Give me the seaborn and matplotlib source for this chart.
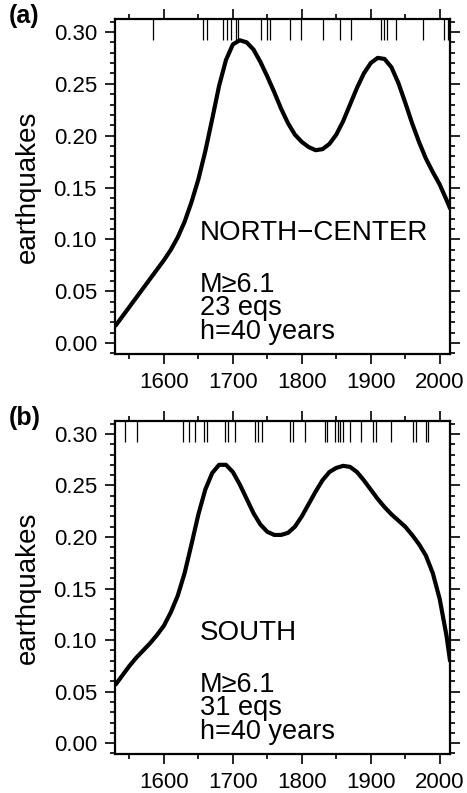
import numpy as np
import pandas as pd
import matplotlib
matplotlib.use("Agg")
import matplotlib.pyplot as plt
import seaborn as sns
from matplotlib.ticker import MultipleLocator, FormatStrFormatter

sns.set_theme(style="white")
plt.rcParams['font.family'] = ['Liberation Sans', 'DejaVu Sans']
plt.rcParams['text.color'] = 'black'

# ---------------- data ----------------
years_a = [1530, 1540, 1550, 1560, 1570, 1580, 1590, 1600, 1610, 1620, 1630, 1640, 1650,
           1660, 1670, 1680, 1690, 1700, 1710, 1720, 1730, 1740, 1750, 1760, 1770, 1780,
           1790, 1800, 1810, 1820, 1830, 1840, 1850, 1860, 1870, 1880, 1890, 1900, 1910,
           1920, 1930, 1940, 1950, 1960, 1970, 1980, 1990, 2000, 2010, 2015]
rate_a = [0.017, 0.026, 0.035, 0.044, 0.053, 0.062, 0.071, 0.080, 0.090, 0.102, 0.117,
          0.136, 0.158, 0.185, 0.216, 0.248, 0.273, 0.288, 0.292, 0.290, 0.283, 0.271,
          0.257, 0.242, 0.226, 0.212, 0.201, 0.194, 0.189, 0.186, 0.187, 0.192, 0.201,
          0.214, 0.230, 0.246, 0.260, 0.270, 0.275, 0.274, 0.266, 0.251, 0.232, 0.212,
          0.194, 0.178, 0.165, 0.153, 0.138, 0.130]
events_a = [1584, 1656, 1662, 1685, 1691, 1697, 1704, 1707, 1741, 1749, 1754, 1783,
            1799, 1831, 1855, 1872, 1915, 1919, 1923, 1937, 1976, 2007, 2012]

years_b = [1530, 1540, 1550, 1560, 1570, 1580, 1590, 1600, 1610, 1620, 1630, 1640, 1650,
           1660, 1670, 1680, 1690, 1700, 1710, 1720, 1730, 1740, 1750, 1760, 1770, 1780,
           1790, 1800, 1810, 1820, 1830, 1840, 1850, 1860, 1870, 1880, 1890, 1900, 1910,
           1920, 1930, 1940, 1950, 1960, 1970, 1980, 1990, 2000, 2010, 2015]
rate_b = [0.057, 0.066, 0.075, 0.083, 0.090, 0.097, 0.105, 0.114, 0.127, 0.143, 0.165,
          0.193, 0.222, 0.246, 0.262, 0.270, 0.270, 0.263, 0.251, 0.237, 0.223, 0.212,
          0.205, 0.202, 0.202, 0.204, 0.210, 0.220, 0.232, 0.244, 0.255, 0.263, 0.267,
          0.269, 0.268, 0.263, 0.255, 0.246, 0.237, 0.229, 0.222, 0.216, 0.210, 0.202,
          0.193, 0.182, 0.165, 0.140, 0.104, 0.080]
events_b = [1543, 1561, 1628, 1637, 1645, 1658, 1662, 1688, 1693, 1703, 1732, 1736,
            1742, 1783, 1787, 1804, 1833, 1837, 1848, 1853, 1855, 1860, 1870, 1886,
            1903, 1907, 1930, 1961, 1966, 1980, 1983]

panels = [
    dict(tag="(a)", years=years_a, rate=rate_a, events=events_a,
         region="NORTH\u2212CENTER", mag="M\u22656.1", neq="23 eqs", bw="h=40 years"),
    dict(tag="(b)", years=years_b, rate=rate_b, events=events_b,
         region="SOUTH", mag="M\u22656.1", neq="31 eqs", bw="h=40 years"),
]

W, H = 467, 793
fig = plt.figure(figsize=(W / 100, H / 100), dpi=100)
fig.patch.set_facecolor("white")

axes_px = [(115, 19, 450, 354), (115, 421, 450, 754)]

for p, (l, t, r, b) in zip(panels, axes_px):
    ax = fig.add_axes([l / W, 1 - b / H, (r - l) / W, (b - t) / H])
    df = pd.DataFrame({"year": p["years"], "rate": p["rate"]})
    sns.lineplot(data=df, x="year", y="rate", ax=ax, color="black", lw=3.0)
    ax.vlines(p["events"], 0.937, 1.0, transform=ax.get_xaxis_transform(),
              color="black", lw=0.9)
    ax.set_xlim(1529, 2015)
    ax.set_ylim(-0.0105, 0.3125)
    ax.xaxis.set_major_locator(MultipleLocator(100))
    ax.xaxis.set_minor_locator(MultipleLocator(50))
    ax.yaxis.set_major_locator(MultipleLocator(0.05))
    ax.yaxis.set_minor_locator(MultipleLocator(0.01))
    ax.yaxis.set_major_formatter(FormatStrFormatter("%.2f"))
    ax.tick_params(which="both", direction="out", top=True, right=True,
                   bottom=True, left=True, labeltop=False, labelright=False,
                   color="black", width=1.2, labelsize=16, labelcolor="black")
    ax.tick_params(which="major", length=7)
    ax.tick_params(axis="y", which="major", pad=6)
    ax.tick_params(axis="x", which="major", pad=6)
    ax.tick_params(which="minor", length=3.5)
    for s in ax.spines.values():
        s.set_color("black")
        s.set_linewidth(1.6)
    ax.set_xlabel("")
    ax.set_ylabel("earthquakes", fontsize=20, color="black", labelpad=9)
    ax.grid(False)
    ax.text(1652, 0.0996, p["region"], fontsize=20, va="baseline", ha="left")
    ax.text(1652, 0.0040, "\n".join([p["mag"], p["neq"], p["bw"]]), fontsize=19.5,
            va="baseline", ha="left", linespacing=0.88)
    fig.text(9 / W, 1 - (t - 3) / H, p["tag"], fontsize=18, fontweight="bold",
             va="center", ha="left")

fig.savefig("out.png", dpi=100, facecolor="white")
